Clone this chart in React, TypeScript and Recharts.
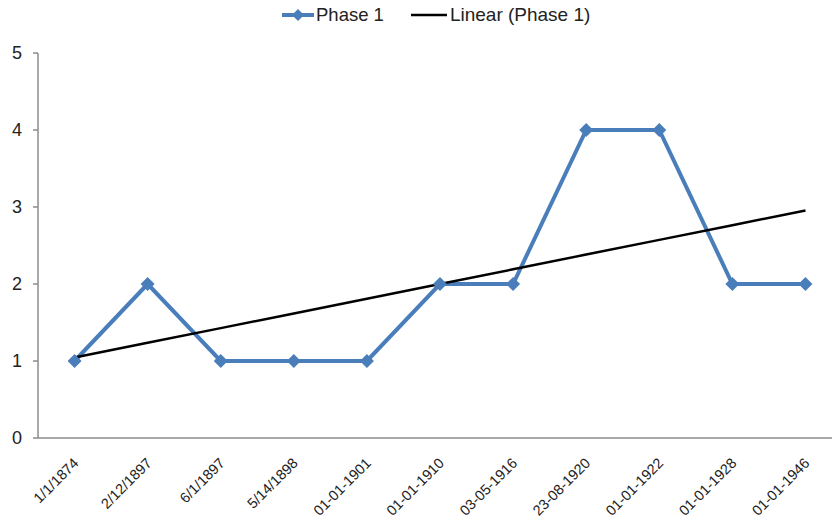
import { LineChart, Line, XAxis, YAxis } from "recharts";

const dates = [
  "1/1/1874",
  "2/12/1897",
  "6/1/1897",
  "5/14/1898",
  "01-01-1901",
  "01-01-1910",
  "03-05-1916",
  "23-08-1920",
  "01-01-1922",
  "01-01-1928",
  "01-01-1946",
];
const phase1 = [1, 2, 1, 1, 1, 2, 2, 4, 4, 2, 2];
// least-squares trend line for Phase 1
const linearPhase1 = [1.045, 1.236, 1.427, 1.618, 1.809, 2.0, 2.191, 2.382, 2.573, 2.764, 2.955];
const yTicks = [0, 1, 2, 3, 4, 5];

const positions = dates.map((_, i) => i + 1);
const boundaries = [0, ...positions].map((p) => p + 0.5);

const data = dates.map((d, i) => ({
  idx: positions[i],
  date: d,
  phase1: phase1[i],
  linear: linearPhase1[i],
}));

const BLUE = "#4a7ebb";
const AXIS = "#8c8c8c";
const FONT = "'Liberation Sans', Arial, sans-serif";

const Diamond = (props: any) => {
  const { cx, cy } = props;
  if (cx == null || cy == null) return null;
  const r = 7;
  return (
    <polygon
      points={`${cx},${cy - r} ${cx + r},${cy} ${cx},${cy + r} ${cx - r},${cy}`}
      fill={BLUE}
    />
  );
};

const DateTick = (props: any) => {
  const { x, y, payload } = props;
  const tx = x + 5;
  const ty = y + 13;
  return (
    <text
      x={tx}
      y={ty}
      transform={`rotate(-45, ${tx}, ${ty})`}
      textAnchor="end"
      fontSize={14.5}
      fontFamily={FONT}
      fill="#222"
    >
      {dates[payload.value - 1]}
    </text>
  );
};

function LegendRow() {
  return (
    <div
      style={{
        position: "absolute",
        top: 4,
        left: 282,
        display: "flex",
        alignItems: "center",
        fontFamily: FONT,
        fontSize: 18.5,
        color: "#222",
        whiteSpace: "nowrap",
      }}
    >
      <svg width={32} height={20}>
        <line x1={0} y1={10} x2={32} y2={10} stroke={BLUE} strokeWidth={4} />
        <polygon points="16,4 22,10 16,16 10,10" fill={BLUE} />
      </svg>
      <span style={{ marginLeft: 2 }}>Phase 1</span>
      <svg width={36} height={20} style={{ marginLeft: 27 }}>
        <line x1={0} y1={10} x2={36} y2={10} stroke="#000" strokeWidth={2.5} />
      </svg>
      <span style={{ marginLeft: 3, fontSize: 19 }}>Linear (Phase 1)</span>
    </div>
  );
}

export default function App() {
  return (
    <div
      style={{
        position: "absolute",
        left: 0,
        top: 0,
        width: 832,
        height: 520,
        overflow: "hidden",
        background: "#fff",
      }}
    >
      <LegendRow />
      <LineChart
        width={860}
        height={520}
        data={data}
        margin={{ top: 53, right: 18, bottom: 0, left: 0 }}
      >
        <XAxis
          xAxisId="grid"
          dataKey="idx"
          type="number"
          domain={[0.5, 11.5]}
          ticks={boundaries}
          tick={false}
          tickSize={5}
          height={5}
          stroke={AXIS}
          strokeWidth={1.5}
        />
        <XAxis
          xAxisId="labels"
          dataKey="idx"
          type="number"
          domain={[0.5, 11.5]}
          ticks={positions}
          tick={<DateTick />}
          tickLine={false}
          axisLine={false}
          height={77}
          interval={0}
        />
        <YAxis
          domain={[0, 5]}
          ticks={yTicks}
          width={38}
          tickSize={5}
          stroke={AXIS}
          strokeWidth={1.5}
          tick={{ fill: "#222", fontSize: 18, fontFamily: FONT }}
          tickMargin={11}
        />
        <Line
          xAxisId="grid"
          dataKey="phase1"
          stroke={BLUE}
          strokeWidth={4}
          dot={<Diamond />}
          activeDot={false}
          isAnimationActive={false}
        />
        <Line
          xAxisId="grid"
          dataKey="linear"
          stroke="#000"
          strokeWidth={2.5}
          dot={false}
          activeDot={false}
          isAnimationActive={false}
        />
      </LineChart>
    </div>
  );
}
